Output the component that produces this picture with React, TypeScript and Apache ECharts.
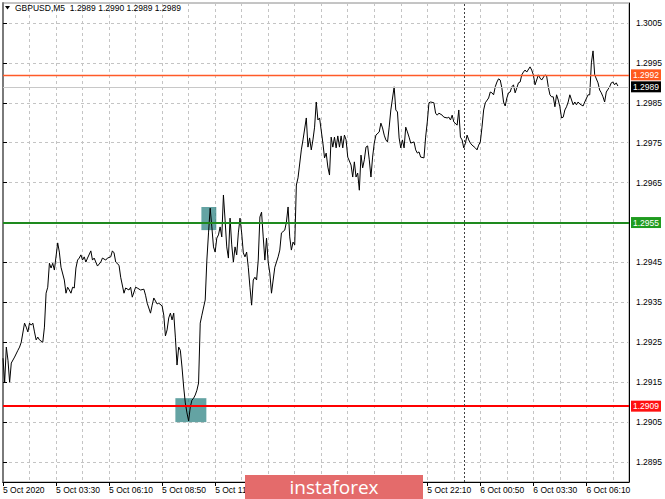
import React, { useEffect, useRef } from "react";
import * as echarts from "echarts";

// ---- x axis: 5-minute bars counted from the first visible bar ----
// labels at 14:10, 16:50 and 19:30 are covered by the watermark in the reference
const xTickLabels = [
  "5 Oct 2020", "5 Oct 03:30", "5 Oct 06:10", "5 Oct 08:50", "5 Oct 11:30", "",
  "", "", "5 Oct 22:10", "6 Oct 00:50", "6 Oct 03:30", "6 Oct 06:10",
];
const barsPerLabel = 32;
const barsPerGrid = 16;
const lastVisibleBar = 377.7;
const daySeparatorBar = 278; // 6 Oct 00:00

// ---- y axis ----
const yMin = 1.289;
const yMax = 1.301;
const yTickLabels = ["1.2895", "1.2905", "1.2915", "1.2925", "1.2935", "1.2945", "1.2955", "1.2965", "1.2975", "1.2985", "1.2995", "1.3005"];

// ---- close prices (vertices) ----
const barIdx = [
  0, 1, 2, 3, 4, 5, 7, 9, 10, 11, 13, 14, 15, 16, 17, 18, 19, 20, 21, 22, 24, 25, 26, 27, 28, 29, 30, 31, 33, 34,
  35, 37, 38, 39, 40, 41, 42, 43, 44, 45, 46, 47, 48, 49, 50, 51, 53, 54, 55, 57, 59, 60, 62, 63, 65, 66, 67, 68, 70, 71,
  73, 74, 76, 77, 78, 80, 81, 83, 85, 86, 87, 89, 90, 91, 93, 94, 96, 97, 98, 99, 100, 101, 102, 103, 104, 105, 106, 107, 108, 109,
  110, 111, 112, 113, 114, 115, 116, 117, 118, 119, 120, 122, 123, 124, 125, 126, 127, 128, 129, 130, 131, 132, 133, 134, 135, 136, 137, 138, 139, 140,
  141, 142, 143, 144, 145, 146, 147, 148, 149, 150, 151, 152, 153, 154, 155, 156, 157, 158, 159, 160, 161, 162, 163, 164, 166, 167, 168, 170, 171, 172,
  173, 174, 175, 176, 177, 178, 180, 181, 183, 184, 185, 186, 187, 188, 189, 190, 191, 193, 194, 195, 196, 197, 198, 199, 200, 201, 202, 203, 204, 205,
  206, 207, 208, 210, 211, 212, 213, 214, 215, 216, 217, 218, 219, 220, 221, 222, 223, 224, 225, 227, 228, 229, 230, 231, 232, 233, 234, 236, 237, 238,
  239, 240, 241, 242, 243, 244, 245, 246, 248, 249, 250, 251, 252, 254, 255, 256, 257, 258, 260, 261, 262, 263, 265, 266, 268, 269, 270, 271, 272, 274,
  275, 276, 277, 278, 279, 280, 281, 282, 283, 285, 286, 287, 288, 289, 290, 291, 293, 294, 295, 296, 297, 298, 299, 300, 301, 302, 303, 304, 305, 306,
  307, 308, 309, 310, 311, 312, 313, 314, 315, 316, 318, 319, 320, 321, 322, 323, 324, 325, 327, 328, 329, 330, 331, 332, 333, 334, 335, 336, 337, 338,
  339, 340, 341, 342, 344, 345, 346, 347, 348, 350, 351, 353, 354, 355, 356, 357, 359, 360, 361, 362, 363, 364, 366, 367, 368, 369, 370, 371,
];
const closes = [
  1.29210, 1.29150, 1.29238, 1.29205, 1.29150, 1.29198, 1.29213, 1.29230, 1.29238, 1.29250, 1.29298, 1.29288, 1.29276, 1.29298, 1.29293, 1.29298, 1.29276, 1.29256, 1.29263, 1.29256, 1.29250, 1.29288, 1.29373, 1.29388, 1.29448, 1.29436, 1.29448, 1.29431, 1.29499, 1.29476,
  1.29438, 1.29406, 1.29373, 1.29388, 1.29381, 1.29373, 1.29388, 1.29386, 1.29436, 1.29456, 1.29461, 1.29469, 1.29456, 1.29464, 1.29451, 1.29461, 1.29479, 1.29456, 1.29461, 1.29441, 1.29451, 1.29461, 1.29456, 1.29461, 1.29464, 1.29479, 1.29474, 1.29451, 1.29443, 1.29413,
  1.29373, 1.29386, 1.29381, 1.29388, 1.29363, 1.29388, 1.29386, 1.29381, 1.29383, 1.29368, 1.29348, 1.29323, 1.29343, 1.29361, 1.29346, 1.29348, 1.29341, 1.29318, 1.29266, 1.29281, 1.29311, 1.29323, 1.29306, 1.29323, 1.29263, 1.29193, 1.29238, 1.29230, 1.29188, 1.29138,
  1.29098, 1.29073, 1.29053, 1.29088, 1.29105, 1.29110, 1.29118, 1.29130, 1.29148, 1.29298, 1.29318, 1.29356, 1.29456, 1.29524, 1.29586, 1.29539, 1.29489, 1.29476, 1.29511, 1.29519, 1.29539, 1.29514, 1.29619, 1.29556, 1.29489, 1.29461, 1.29561, 1.29494, 1.29451, 1.29489,
  1.29469, 1.29524, 1.29561, 1.29524, 1.29474, 1.29464, 1.29476, 1.29438, 1.29388, 1.29343, 1.29406, 1.29413, 1.29406, 1.29456, 1.29564, 1.29576, 1.29514, 1.29456, 1.29511, 1.29451, 1.29423, 1.29373, 1.29406, 1.29438, 1.29464, 1.29481, 1.29524, 1.29531, 1.29551, 1.29589,
  1.29514, 1.29481, 1.29501, 1.29494, 1.29644, 1.29662, 1.29732, 1.29757, 1.29812, 1.29739, 1.29762, 1.29732, 1.29757, 1.29789, 1.29852, 1.29807, 1.29812, 1.29749, 1.29712, 1.29724, 1.29689, 1.29669, 1.29764, 1.29739, 1.29764, 1.29737, 1.29767, 1.29739, 1.29767, 1.29737,
  1.29769, 1.29757, 1.29714, 1.29694, 1.29664, 1.29702, 1.29664, 1.29674, 1.29631, 1.29719, 1.29687, 1.29707, 1.29739, 1.29742, 1.29707, 1.29664, 1.29714, 1.29749, 1.29769, 1.29777, 1.29799, 1.29787, 1.29769, 1.29757, 1.29752, 1.29789, 1.29832, 1.29890, 1.29832, 1.29827,
  1.29762, 1.29737, 1.29757, 1.29737, 1.29789, 1.29777, 1.29764, 1.29749, 1.29752, 1.29732, 1.29724, 1.29727, 1.29714, 1.29712, 1.29764, 1.29802, 1.29850, 1.29852, 1.29850, 1.29824, 1.29819, 1.29824, 1.29819, 1.29814, 1.29812, 1.29814, 1.29807, 1.29819, 1.29802, 1.29794,
  1.29832, 1.29764, 1.29757, 1.29737, 1.29749, 1.29769, 1.29757, 1.29749, 1.29744, 1.29737, 1.29732, 1.29744, 1.29752, 1.29789, 1.29832, 1.29850, 1.29862, 1.29877, 1.29875, 1.29870, 1.29890, 1.29902, 1.29910, 1.29907, 1.29887, 1.29852, 1.29842, 1.29862, 1.29875, 1.29877,
  1.29890, 1.29895, 1.29875, 1.29887, 1.29900, 1.29902, 1.29920, 1.29927, 1.29932, 1.29927, 1.29940, 1.29932, 1.29920, 1.29895, 1.29907, 1.29920, 1.29912, 1.29907, 1.29920, 1.29917, 1.29890, 1.29870, 1.29865, 1.29865, 1.29840, 1.29870, 1.29857, 1.29840, 1.29812, 1.29814,
  1.29832, 1.29840, 1.29852, 1.29870, 1.29845, 1.29852, 1.29845, 1.29852, 1.29847, 1.29842, 1.29852, 1.29870, 1.29870, 1.29950, 1.29980, 1.29920, 1.29900, 1.29882, 1.29875, 1.29865, 1.29852, 1.29877, 1.29890, 1.29900, 1.29902, 1.29895, 1.29900, 1.29892,
];

// ---- horizontal levels ----
const levelValues = [1.2992, 1.2989, 1.2955, 1.2909];
const levelLineColors = ["#ff5a28", "#c8c8c8", "#1e8a1e", "#ff0000"];
const levelLineWidths = [1.3, 1, 2, 2];
const levelLabelBg = ["#ff5a1f", "#000000", "#1f9b1f", "#ff1010"];

// ---- highlighted zones [barFrom, barTo, priceLow, priceHigh] ----
const zones = [
  [104, 122.7, 1.2905, 1.2911],
  [119.7, 128.7, 1.29531, 1.29589],
];

const FONT = "'Liberation Sans', Arial, sans-serif";

export default function App() {
  const ref = useRef<HTMLDivElement>(null);

  useEffect(() => {
    if (!ref.current) return;
    const chart = echarts.init(ref.current, undefined, { renderer: "svg" });
    const gridLine = { show: true, lineStyle: { color: "#c4c4c4", type: [3, 3], width: 1 } };
    // an axis label that sits under a level's price box is hidden, as in the reference
    const coveredLabels = levelValues.map((v) => v.toFixed(4));

    const option = {
      animation: false,
      backgroundColor: "#ffffff",
      textStyle: { fontFamily: FONT },
      grid: { left: 3, top: 3, width: 628, height: 479, show: true, borderColor: "#8a8a8a", borderWidth: 1 },
      xAxis: [
        {
          type: "value", min: 0, max: lastVisibleBar, interval: barsPerGrid,
          axisLine: { show: false }, axisTick: { show: false }, axisLabel: { show: false },
          splitLine: gridLine,
        },
        {
          type: "value", position: "bottom", min: 0, max: lastVisibleBar, interval: barsPerLabel,
          axisLine: { show: true, onZero: false, lineStyle: { color: "#000" } },
          axisTick: { show: true, length: 4, lineStyle: { color: "#000" } },
          axisLabel: {
            show: true, align: "left", margin: 3, fontSize: 8.5, color: "#000", fontFamily: FONT,
            showMaxLabel: false,
            formatter: (v: number) => {
              const k = Math.round(v / barsPerLabel);
              return Math.abs(v - k * barsPerLabel) < 1e-6 ? xTickLabels[k] ?? "" : "";
            },
          },
          splitLine: { show: false },
        },
      ],
      yAxis: [
        {
          type: "value", position: "right", min: yMin, max: yMax,
          axisLine: { show: true, onZero: false, lineStyle: { color: "#000" } },
          axisTick: { show: false }, axisLabel: { show: false }, splitLine: { show: false },
        },
        {
          type: "value", position: "right", min: yMin - 0.0005, max: yMax - 0.0005,
          splitNumber: 12, minInterval: 0.001, maxInterval: 0.001,
          axisLine: { show: false },
          axisTick: { show: true, length: 4, lineStyle: { color: "#000" } },
          axisLabel: {
            show: true, margin: 7, fontSize: 8.5, color: "#000", fontFamily: FONT,
            showMinLabel: false, showMaxLabel: false,
            formatter: (v: number) => {
              const s = (v + 0.0005).toFixed(4);
              return yTickLabels.includes(s) && !coveredLabels.includes(s) ? s : "";
            },
          },
          splitLine: gridLine,
        },
        {
          // darker left frame of the chart window
          type: "value", position: "left", min: yMin, max: yMax,
          axisLine: { show: true, onZero: false, lineStyle: { color: "#7a7a7a", width: 2 } },
          axisTick: { show: false }, axisLabel: { show: false }, splitLine: { show: false },
        },
      ],
      series: [
        {
          type: "line",
          xAxisIndex: 0,
          yAxisIndex: 0,
          data: barIdx.map((b, i) => [b, closes[i]]),
          symbol: "none",
          silent: true,
          lineStyle: { color: "#000", width: 1 },
          z: 3,
          markArea: {
            silent: true,
            itemStyle: { color: "rgba(40,128,128,0.72)" },
            data: zones.map((z) => [{ coord: [z[0], z[2]] }, { coord: [z[1], z[3]] }]),
          },
          markLine: {
            silent: true,
            precision: 6,
            symbol: ["none", "none"],
            animation: false,
            label: {
              show: true, position: "end", distance: 2, color: "#fff", fontSize: 8.5, fontFamily: FONT,
              padding: [1, 2, 1, 2],
            },
            data: [
              ...levelValues.map((v, i) => ({
                yAxis: v,
                lineStyle: { color: levelLineColors[i], width: levelLineWidths[i], type: "solid", opacity: 1 },
                label: { formatter: v.toFixed(4), backgroundColor: levelLabelBg[i] },
              })),
              {
                xAxis: daySeparatorBar,
                lineStyle: { color: "#404040", width: 1, type: [2, 2] },
                label: { show: false },
              },
            ],
          },
        },
      ],
      graphic: [
        { type: "polygon", shape: { points: [[5, 6], [10, 6], [7.5, 9.5]] }, style: { fill: "#000" }, z: 10 },
        {
          type: "text", x: 15, y: 3, z: 10,
          style: { text: "GBPUSD,M5  1.2989 1.2990 1.2989 1.2989", fontSize: 8.5, fontFamily: FONT, fill: "#000" },
        },
        { type: "rect", shape: { x: 245, y: 475, width: 178, height: 24 }, style: { fill: "#e46b6b" }, z: 20 },
        {
          type: "text", x: 334, y: 487, z: 21,
          style: {
            text: "instaforex", fontSize: 19, fontFamily: "'Open Sans', sans-serif", fill: "#ffffff",
            align: "center", verticalAlign: "middle",
          },
        },
      ],
    };

    chart.setOption(option as any);
    return () => chart.dispose();
  }, []);

  return <div ref={ref} style={{ position: "fixed", left: 0, top: 0, width: 665, height: 499 }} />;
}
